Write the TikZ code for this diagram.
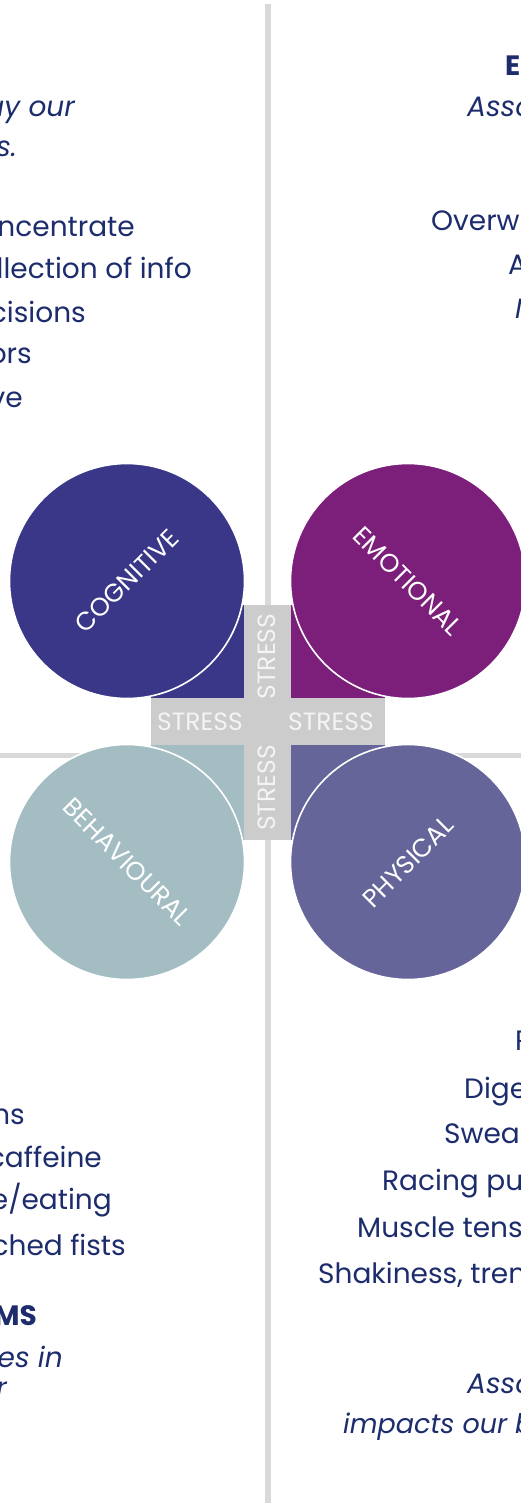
\documentclass[tikz,border=0pt]{standalone}
\usepackage{fontspec}
\setmainfont{Poppins}
\definecolor{navy}{HTML}{1C2C6C}
\definecolor{cogblue}{HTML}{3A3788}
\definecolor{emopurple}{HTML}{7B1F7B}
\definecolor{behteal}{HTML}{A3BDC3}
\definecolor{physlav}{HTML}{656599}
\definecolor{crossgrey}{HTML}{CCCCCC}
\definecolor{rulegrey}{HTML}{D9D9D9}
\definecolor{stresswhite}{HTML}{F4F4F4}
\newcommand{\bodysize}{\fontsize{28}{31}\selectfont}
\tikzset{
  txt/.style={inner sep=0pt, text=navy, font=\bodysize},
  lefttxt/.style={txt, anchor=base east},
  righttxt/.style={txt, anchor=base west},
  itx/.style={font=\bodysize\itshape},
  bfx/.style={font=\bodysize\bfseries},
  bubble/.style={circle, minimum size=235pt, inner sep=0pt, draw=white,
    line width=1.6pt, text=white, font=\fontsize{25.5}{27}\selectfont},
  stresslbl/.style={inner sep=0pt, text=stresswhite, font=\fontsize{25}{27}\selectfont},
}
\begin{document}
\begin{tikzpicture}[x=1pt,y=-1pt]
\useasboundingbox (0,0) rectangle (521,1503);
\fill[white] (0,0) rectangle (521,1503);

% quadrant rules
\fill[rulegrey] (265,4) rectangle (271,1503);
\fill[rulegrey] (0,753) rectangle (521,758);

% coloured corner squares behind the cross
\fill[cogblue]   (151,605) rectangle (267.5,721.5);
\fill[emopurple] (267.5,605) rectangle (385,721.5);
\fill[behteal]   (151,721.5) rectangle (267.5,840);
\fill[physlav]   (267.5,721.5) rectangle (385,840);

% the four symptom circles
\node[bubble, fill=cogblue, rotate=45]    (cog) at (127,581) {COGNITIVE};
\node[bubble, fill=emopurple, rotate=-45] (emo) at (408,581) {EMOTIONAL};
\node[bubble, fill=behteal, rotate=-45]   (beh) at (127,862) {BEHAVIOURAL};
\node[bubble, fill=physlav, rotate=45]    (phy) at (408,862) {PHYSICAL};

% central cross
\fill[crossgrey] (244,605) rectangle (291,840);
\fill[crossgrey] (151,698) rectangle (385,745);
\node[stresslbl] (sl) at (200,722) {STRESS};
\node[stresslbl] (sr) at (331,722) {STRESS};
\node[stresslbl, rotate=90] (st) at (266.5,656.5) {STRESS};
\node[stresslbl, rotate=90] (sb) at (266.5,788) {STRESS};

% cognitive column
\node[lefttxt, itx] (c1) at (75,117) {ay our};
\node[lefttxt, itx] (c2) at (17,157) {s.};
\node[lefttxt] (c3) at (135,237) {ncentrate};
\node[lefttxt] (c4) at (192,279) {llection of info};
\node[lefttxt] (c5) at (86,322) {cisions};
\node[lefttxt] (c6) at (32,363) {ors};
\node[lefttxt] (c7) at (23,407) {ve};

% emotional column
\node[righttxt, bfx] (e1) at (505,76) {EM};
\node[righttxt, itx] (e2) at (467,117) {Assoc};
\node[righttxt] (e3) at (431,231) {Overw};
\node[righttxt] (e4) at (508,275) {A};
\node[righttxt, itx] (e5) at (515,318) {M};

% behavioural column
\node[lefttxt] (b1) at (25,1124) {ms};
\node[lefttxt] (b2) at (102,1167) {caffeine};
\node[lefttxt] (b3) at (112,1209) {e/eating};
\node[lefttxt] (b4) at (126,1255) {ched fists};
\node[lefttxt, bfx] (b5) at (37,1325) {MS};
\node[lefttxt, itx] (b6) at (63,1367) {ues in};
\node[lefttxt, itx] (b7) at (7,1397) {r};

% physical column
\node[righttxt] (p1) at (515,1050) {R};
\node[righttxt] (p2) at (464,1098) {Dige};
\node[righttxt] (p3) at (444,1143) {Swea};
\node[righttxt] (p4) at (382,1190) {Racing pu};
\node[righttxt] (p5) at (357,1237) {Muscle tens};
\node[righttxt] (p6) at (318,1283) {Shakiness, trem};
\node[righttxt, itx] (p7) at (467,1393) {Assoc};
\node[righttxt, font=\fontsize{27}{30}\itshape] (p8) at (343,1433) {impacts our b};
\end{tikzpicture}
\end{document}
